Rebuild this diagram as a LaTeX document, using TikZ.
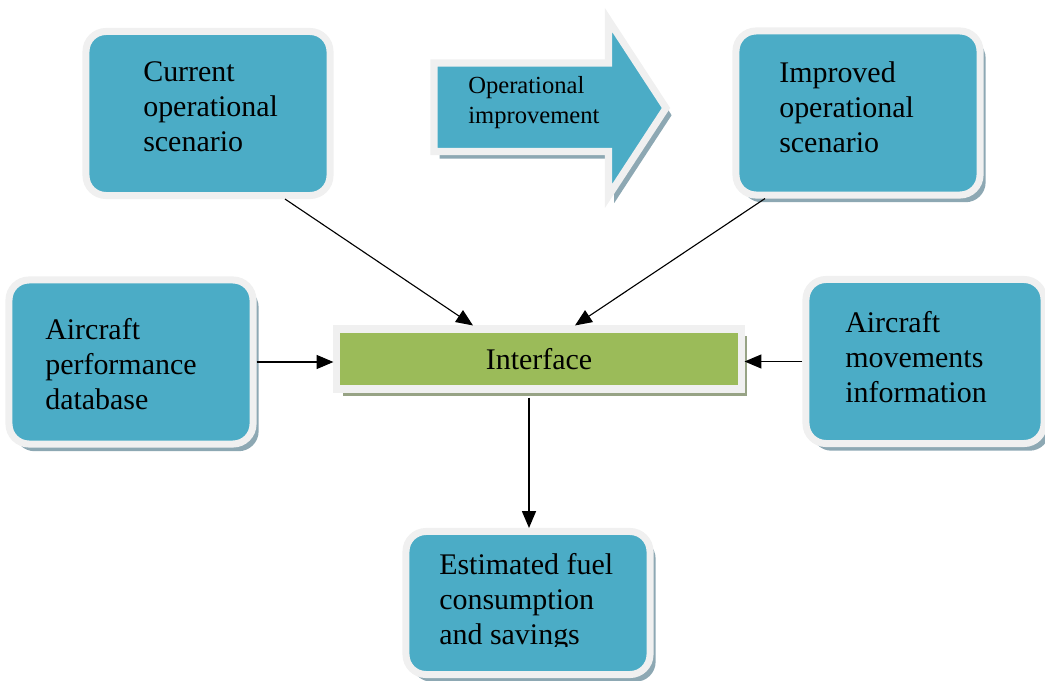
\documentclass[tikz,border=0pt]{standalone}
\usepackage{fontspec}
\setmainfont{Liberation Serif}
\usetikzlibrary{arrows.meta,shadows,calc}
\definecolor{boxteal}{HTML}{4BACC6}
\definecolor{ifgreen}{HTML}{9BBB59}
\definecolor{rimgray}{HTML}{F0F0F0}
\definecolor{tealshade}{HTML}{8DA8B3}
\definecolor{greenshade}{HTML}{97A385}
\begin{document}
\begin{tikzpicture}[x=0.025cm,y=-0.025cm,
    rim/.style={draw=rimgray,line width=5pt},
    scenbox/.style={rectangle,rim,rounded corners=0.5cm,fill=boxteal,
      minimum width=6.1cm,minimum height=4.1cm},
    shade/.style={drop shadow={shadow xshift=0.14cm,shadow yshift=-0.18cm,
      fill=#1,opacity=1}},
    lbl/.style={anchor=west,align=left,inner sep=0pt,
      font=\fontsize{21.3}{25}\selectfont},
    conn/.style={-{Triangle[length=12pt,width=10pt]},line width=0.8pt}]
  \useasboundingbox (0,0) rectangle (1045,681);
  % boxes
  \node[scenbox] (cur) at (208,113.5) {};
  \node[scenbox,shade=tealshade] (imp) at (858,113) {};
  \node[scenbox,shade=tealshade] (perf) at (131,362) {};
  \node[scenbox,shade=tealshade,minimum width=5.95cm] (move) at (925,361.5) {};
  \node[scenbox,shade=tealshade,minimum height=3.575cm] (est) at (528,603) {};
  \node[rectangle,rim,fill=ifgreen,shade=greenshade,minimum width=10.1cm,
    minimum height=1.5cm,font=\fontsize{21.3}{25}\selectfont] (iface)
    at (539,359) {Interface};
  % block arrow
  \path[rim,fill=boxteal,line join=miter,shade=tealshade]
    (434,63) -- (608.5,63) -- (608.5,20) -- (666,108) -- (608.5,196)
    -- (608.5,151.5) -- (434,151.5) -- cycle;
  \node[lbl,font=\fontsize{17.5}{21.3}\selectfont] (oplabel) at (468,103)
    {Operational\\improvement};
  % texts
  \node[lbl] (curtext) at (143,107) {Current\\operational\\scenario};
  \node[lbl] (imptext) at (779,107) {Improved\\operational\\scenario};
  \node[lbl] (perftext) at (45,364) {Aircraft\\performance\\database};
  \node[lbl] (movetext) at (845,357) {Aircraft\\movements\\information};
  \begin{scope}
    \clip (400,520) rectangle (660,646);
    \node[lbl] (esttext) at (439,602) {Estimated fuel\\consumption\\and savings};
  \end{scope}
  % connectors
  \draw[conn] ($(cur.south)+(77,0)$) -- ($(iface.north)+(-66,0)$);
  \draw[conn] ($(imp.south)+(-93,0)$) -- ($(iface.north)+(36,0)$);
  \draw[conn] (perf.east) -- (perf.east -| iface.west);
  \draw[conn] (move.west) -- (move.west -| iface.east);
  \draw[conn] ($(iface.south)+(-10,5)$) -- ($(est.north)+(1,0)$);
\end{tikzpicture}
\end{document}
